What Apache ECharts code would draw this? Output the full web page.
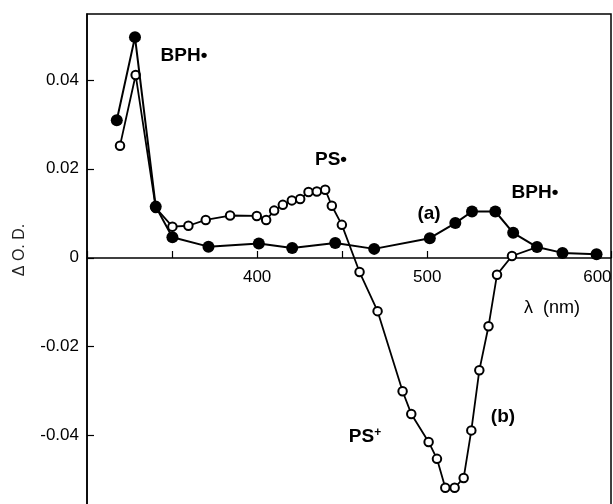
<!DOCTYPE html>
<html>
<head>
<meta charset="utf-8">
<script src="https://cdn.jsdelivr.net/npm/echarts@6/dist/echarts.min.js"></script>
<style>
html,body{margin:0;padding:0;background:#fff;}
#chart{width:613px;height:504px;}
</style>
</head>
<body>
<div id="chart"></div>
<script>
// Series (a): filled circles
const wavelengthA = [317.5, 328.2, 340.4, 350.2, 371.4, 401, 420.6, 445.9, 468.8, 501.5, 516.5, 526.3, 540, 550.5, 564.5, 579.5, 599.5];
const odA = [0.0309, 0.0496, 0.0115, 0.0046, 0.0025, 0.0032, 0.0022, 0.0033, 0.0020, 0.0044, 0.0078, 0.0104, 0.0104, 0.0056, 0.0024, 0.0011, 0.0008];
// Series (b): open circles
const wavelengthB = [319.4, 328.6, 340.4, 350.2, 359.6, 369.8, 384.1, 399.8, 405.3, 410, 415.1, 420.4, 425.3, 430.2, 435.1, 440, 443.9, 449.8, 460.2, 470.8, 485.5, 490.6, 500.8, 505.7, 510.6, 516.1, 521.4, 525.9, 530.6, 536, 541, 549.8, 564.5];
const odB = [0.0252, 0.0411, 0.0112, 0.0070, 0.0072, 0.0085, 0.0095, 0.0094, 0.0085, 0.0106, 0.0119, 0.0129, 0.0132, 0.0148, 0.0149, 0.0153, 0.0117, 0.0074, -0.0032, -0.0120, -0.0300, -0.0351, -0.0414, -0.0452, -0.0517, -0.0517, -0.0495, -0.0388, -0.0253, -0.0154, -0.0038, 0.0004, 0.0024];
// Tick values
const yTicks = [-0.04, -0.02, 0, 0.02, 0.04];
const xLabelValues = [400, 500, 600];

const dataA = wavelengthA.map((x, i) => [x, odA[i]]);
const dataB = wavelengthB.map((x, i) => [x, odB[i]]);

const FONT = '"Liberation Sans", Arial, Helvetica, sans-serif';
const chart = echarts.init(document.getElementById('chart'));

function ann(text, x, y, bold, size) {
  return {
    type: 'text', x: x, y: y,
    style: {
      text: text, fill: '#000', font: (bold ? 'bold ' : '') + size + 'px ' + FONT,
      textAlign: 'center', textVerticalAlign: 'middle'
    }
  };
}

chart.setOption({
  animation: false,
  backgroundColor: '#fff',
  grid: { left: 87, top: 14, right: 2, bottom: -2, containLabel: false, outerBoundsMode: 'none', show: true, borderColor: '#000', borderWidth: 1.5, backgroundColor: 'transparent' },
  xAxis: {
    type: 'value', min: 300, max: 608, interval: 50,
    position: 'bottom', offset: -248,
    axisLine: { onZero: false, lineStyle: { color: '#000', width: 1.5 } },
    axisTick: { inside: true, length: 7, lineStyle: { color: '#000', width: 1.2 } },
    axisLabel: {
      margin: 11, color: '#000', fontFamily: FONT, fontSize: 17,
      formatter: v => (xLabelValues.indexOf(v) >= 0 ? String(v) : '')
    },
    splitLine: { show: false }
  },
  yAxis: {
    type: 'value', min: -0.0558, max: 0.0548,
    axisLine: { show: true, onZero: false, lineStyle: { color: '#000', width: 1.5 } },
    axisTick: { show: true, inside: true, length: 7, customValues: yTicks, lineStyle: { color: '#000', width: 1.2 } },
    axisLabel: {
      margin: 8, color: '#000', fontFamily: FONT, fontSize: 17, customValues: yTicks,
      formatter: v => (Math.abs(v) < 1e-9 ? '0' : v.toFixed(2))
    },
    splitLine: { show: false }
  },
  series: [
    {
      name: '(b)', type: 'line', data: dataB, z: 2,
      symbol: 'circle', symbolSize: 8.5,
      itemStyle: { color: '#fff', borderColor: '#000', borderWidth: 2 },
      lineStyle: { color: '#000', width: 1.8 }
    },
    {
      name: '(a)', type: 'line', data: dataA, z: 3,
      symbol: 'circle', symbolSize: 12,
      itemStyle: { color: '#000', borderColor: '#000', borderWidth: 0 },
      lineStyle: { color: '#000', width: 2 }
    }
  ],
  graphic: [
    {
      type: 'text', x: 20, y: 250, rotation: Math.PI / 2,
      style: {
        text: 'Δ O. D.', fill: '#222', font: '16px ' + FONT,
        textAlign: 'center', textVerticalAlign: 'middle'
      }
    },
    ann('BPH•', 184, 56, true, 19),
    ann('PS•', 331, 160, true, 19),
    ann('BPH•', 535, 193, true, 19),
    ann('(a)', 429, 214, true, 19),
    ann('(b)', 503, 417, true, 19),
    ann('λ  (nm)', 552, 308, false, 18),
    {
      type: 'text', x: 365, y: 437,
      style: {
        text: 'PS{s|+}', fill: '#000', font: 'bold 19px ' + FONT,
        textAlign: 'center', textVerticalAlign: 'middle',
        rich: { s: { fontSize: 12, fontWeight: 'bold', fontFamily: FONT, verticalAlign: 'top', padding: [0, 0, 9, 0] } }
      }
    }
  ]
});
</script>
</body>
</html>
